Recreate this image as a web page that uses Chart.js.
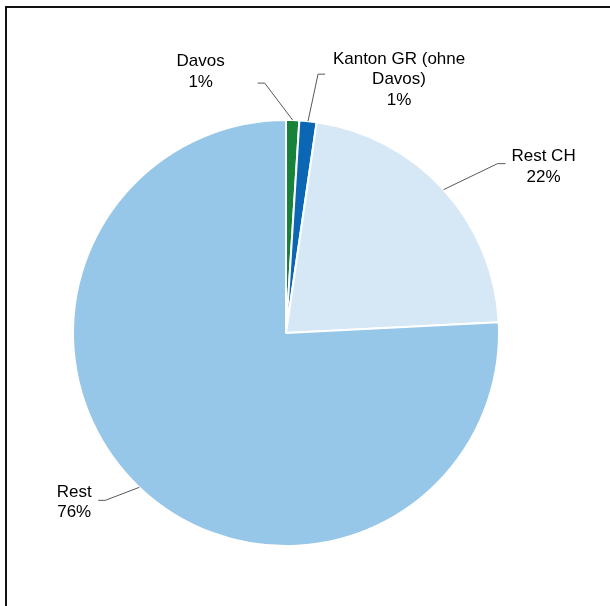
<!DOCTYPE html>
<html>
<head>
<meta charset="utf-8">
<script src="https://cdn.jsdelivr.net/npm/chart.js@4/dist/chart.umd.min.js"></script>
<style>
  html, body { margin: 0; padding: 0; background: #fff; }
  #wrap { width: 610px; height: 606px; position: relative; }
</style>
</head>
<body>
<div id="wrap"><canvas id="c" width="610" height="606"></canvas></div>
<script>
// ---- data ----
const categories = ["Davos", "Kanton GR (ohne Davos)", "Rest CH", "Rest"];
const labelLines = [["Davos", "1%"], ["Kanton GR (ohne", "Davos)", "1%"], ["Rest CH", "22%"], ["Rest", "76%"]];
const shares = [1.0, 1.3, 21.9, 75.8];
const colors = ["#17823A", "#0B67B4", "#D6E8F6", "#96C6E8"];

// leader-line styling (offsets relative to slice edge midpoint)
const leaderStyle = [
  { elbow: [-28, -37], hLen: -7, text: [-57, -11.5] },
  { elbow: [10, -47], hLen: 7, text: [74, 5.5] },
  { elbow: [54, -26], hLen: 8, text: [38, 3] },
  { elbow: [-34, 13], hLen: -7, text: [-24, 2] }
];

const framePlugin = {
  id: 'frame',
  beforeDraw(chart) {
    const ctx = chart.ctx;
    ctx.save();
    ctx.fillStyle = '#fff';
    ctx.fillRect(0, 0, chart.width, chart.height);
    ctx.fillStyle = '#111';
    ctx.fillRect(5, 6, chart.width - 5, 2);
    ctx.fillRect(5, 6, 2, chart.height - 6);
    ctx.restore();
  }
};

const labelPlugin = {
  id: 'leaderLabels',
  afterDatasetsDraw(chart) {
    const ctx = chart.ctx;
    const meta = chart.getDatasetMeta(0);
    ctx.save();
    meta.data.forEach((arc, i) => {
      const p = arc.getProps(['x', 'y', 'startAngle', 'endAngle', 'outerRadius'], true);
      const mid = (p.startAngle + p.endAngle) / 2;
      const ex = p.x + Math.cos(mid) * p.outerRadius;
      const ey = p.y + Math.sin(mid) * p.outerRadius;
      const st = leaderStyle[i];
      const bx = ex + st.elbow[0], by = ey + st.elbow[1];
      const hx = bx + st.hLen;
      ctx.strokeStyle = '#595959';
      ctx.lineWidth = 1;
      ctx.beginPath();
      ctx.moveTo(ex, ey);
      ctx.lineTo(bx, by);
      ctx.lineTo(hx, by);
      ctx.stroke();
      const lines = labelLines[i];
      const lh = 20.5;
      const cx = hx + st.text[0];
      const cy = by + st.text[1];
      ctx.fillStyle = '#000';
      ctx.font = '17px "Liberation Sans", Arial, sans-serif';
      ctx.textAlign = 'center';
      ctx.textBaseline = 'middle';
      lines.forEach((t, k) => {
        const y = cy + (k - (lines.length - 1) / 2) * lh;
        ctx.fillText(t, cx, y);
      });
    });
    ctx.restore();
  }
};

new Chart(document.getElementById('c'), {
  type: 'pie',
  data: {
    labels: categories,
    datasets: [{
      data: shares,
      backgroundColor: colors,
      borderColor: '#ffffff',
      borderWidth: 2
    }]
  },
  options: {
    responsive: false,
    animation: false,
    layout: { padding: { left: 72, right: 110, top: 119, bottom: 59 } },
    plugins: {
      legend: { display: false },
      tooltip: { enabled: false },
      title: { display: false }
    }
  },
  plugins: [framePlugin, labelPlugin]
});
</script>
</body>
</html>
